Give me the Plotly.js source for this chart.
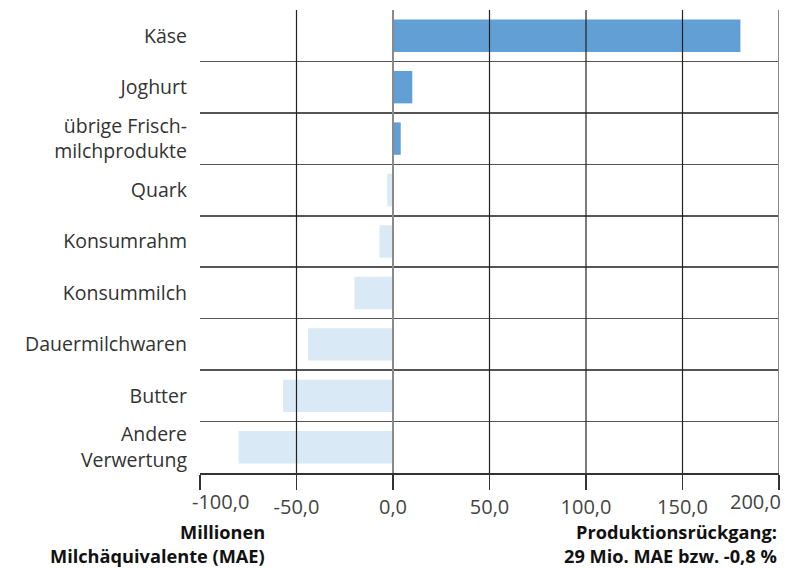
<!DOCTYPE html>
<html>
<head>
<meta charset="utf-8">
<script src="https://cdn.plot.ly/plotly-3.0.1.min.js"></script>
<style>html,body{margin:0;padding:0;background:#fff;}#chart{width:787px;height:570px;}</style>
</head>
<body>
<div id="chart"></div>
<script>
const categories = ["Käse", "Joghurt", "übrige Frisch-<br>milchprodukte", "Quark", "Konsumrahm", "Konsummilch", "Dauermilchwaren", "Butter", "Andere<br>Verwertung"];
const values = [180, 10, 4, -3, -7, -20, -44, -57, -80];
const tickVals = [-100, -50, 0, 50, 100, 150, 200];
const tickText = ["-100,0", "-50,0", "0,0", "50,0", "100,0", "150,0", "200,0"];
const gridVals = [-50, 0, 50, 100, 150, 200];
const leftTitle = "Millionen<br>Milchäquivalente (MAE)";
const rightTitle = "Produktionsrückgang:<br>29 Mio. MAE bzw. -0,8 %";

const colors = values.map(v => v >= 0 ? "#619fd5" : "#d9e9f6");

const font = "'Open Sans', 'Noto Sans', sans-serif";
const tickFont = {size: 20, color: "#444", family: font};

const shapes = gridVals.map(v => ({
  type: "line", xref: "x", yref: "paper", x0: v, x1: v, y0: 0, y1: 1,
  layer: "above",
  line: {color: (v === 0 || v === 200) ? "#8a8a8a" : "#222", width: (v === 0 || v === 200) ? 2 : 1.2}
}));

// first and last tick labels are drawn inward-aligned at their ticks (as in the reference)
const lastIdx = tickVals.length - 1;
const shownTickText = tickText.map((t, i) => (i === 0 || i === lastIdx) ? "" : t);

const tickLabelY = -0.0615;
const annotations = [
  {xref: "x", yref: "paper", x: tickVals[0], y: tickLabelY, xanchor: "left", yanchor: "middle", xshift: -10,
   text: tickText[0], showarrow: false, font: tickFont},
  {xref: "x", yref: "paper", x: tickVals[lastIdx], y: tickLabelY, xanchor: "right", yanchor: "middle", xshift: 4,
   text: tickText[lastIdx], showarrow: false, font: tickFont}
];

const titleFont = {size: 18.2, color: "#111", family: font};
const lineYs = [-0.1274, -0.1782];
leftTitle.split("<br>").forEach((line, i) => annotations.push({
  xref: "paper", yref: "paper", x: 0.116, y: lineYs[i], xanchor: "right", yanchor: "middle",
  text: "<b>" + line + "</b>", showarrow: false, font: titleFont
}));
rightTitle.split("<br>").forEach((line, i) => annotations.push({
  xref: "paper", yref: "paper", x: 1.0, y: lineYs[i], xanchor: "right", yanchor: "middle",
  text: "<b>" + line + "</b>", showarrow: false, font: titleFont
}));

const data = [{
  type: "bar",
  orientation: "h",
  x: values,
  y: categories,
  width: 0.63,
  marker: {color: colors, line: {width: 0}},
  hoverinfo: "x+y"
}];

const layout = {
  width: 787, height: 570,
  margin: {l: 200, r: 8, t: 10, b: 97},
  paper_bgcolor: "#fff", plot_bgcolor: "#fff",
  showlegend: false,
  font: {family: font, color: "#333"},
  xaxis: {
    range: [-100, 200],
    tickvals: tickVals,
    ticktext: shownTickText,
    showgrid: false,
    zeroline: false,
    showline: true,
    linecolor: "#333",
    linewidth: 1.5,
    ticks: "outside",
    ticklen: 15,
    tickwidth: 1.5,
    tickcolor: "#333",
    tickfont: tickFont,
    fixedrange: true
  },
  yaxis: {
    type: "category",
    range: [8.5, -0.5],
    tickson: "boundaries",
    showgrid: true,
    gridcolor: "#555",
    gridwidth: 1.5,
    ticks: "",
    showline: false,
    zeroline: false,
    ticklabelstandoff: 12,
    tickfont: {size: 19.5, color: "#333", family: font},
    fixedrange: true
  },
  shapes: shapes,
  annotations: annotations
};

Plotly.newPlot("chart", data, layout, {displayModeBar: false, staticPlot: true});
</script>
</body>
</html>
